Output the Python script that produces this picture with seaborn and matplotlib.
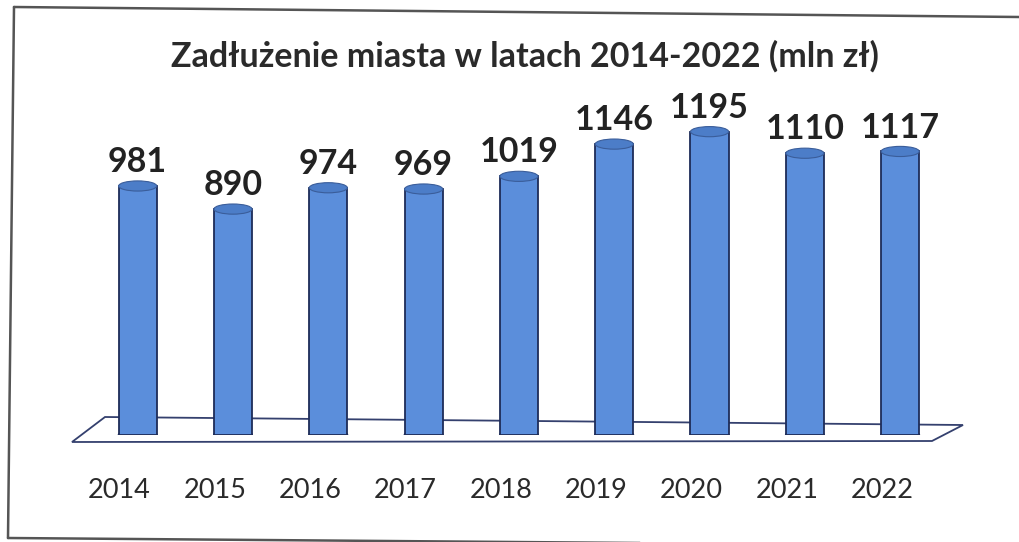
import matplotlib
matplotlib.use('Agg')
import matplotlib.pyplot as plt
import matplotlib.transforms as mtransforms
import seaborn as sns
import pandas as pd
from matplotlib.patches import Ellipse, Polygon
from matplotlib.lines import Line2D

# data
years = ['2014', '2015', '2016', '2017', '2018', '2019', '2020', '2021', '2022']
debt = [981, 890, 974, 969, 1019, 1146, 1195, 1110, 1117]
title = 'Zadłużenie miasta w latach 2014-2022 (mln zł)'

bar_color = '#5B8EDB'
cap_color = '#4C7DC8'
edge_color = '#1E2C58'

sns.set_theme(style='white')
plt.rcParams['font.family'] = ['Lato', 'DejaVu Sans']

W, H = 1019, 542
fig = plt.figure(figsize=(W / 100, H / 100), dpi=100)
fig.patch.set_facecolor('white')


def px(x, y):
    # pixel position (from top-left) -> figure fraction
    return (x / W, 1 - y / H)


ax = fig.add_axes([70 / W, 107 / H, 895 / W, 330 / H])
df = pd.DataFrame({'year': years, 'debt': debt})
sns.barplot(data=df, x='year', y='debt', color=bar_color, saturation=1,
            width=0.4, edgecolor=edge_color, linewidth=1.3, ax=ax, zorder=2)

ax.set_xlim(-0.71, 8.68)
ax.set_ylim(0, 1300)
for s in ax.spines.values():
    s.set_visible(False)
ax.set_yticks([])
ax.set_xlabel('')
ax.set_ylabel('')
ax.tick_params(axis='x', length=0, pad=31, labelsize=19.5, labelcolor='#2a2a2a')
ax.patch.set_alpha(0)

# year labels sit a bit left of the bars (3d perspective)
shift = mtransforms.ScaledTranslation(-0.18, 0, fig.dpi_scale_trans)
for lab in ax.get_xticklabels():
    lab.set_transform(lab.get_transform() + shift)

# cylinder caps (rounded bottom + elliptical top)
cap_h = 40
for i, v in enumerate(debt):
    ax.add_patch(Ellipse((i, 0), 0.4, cap_h, facecolor=bar_color,
                         edgecolor=edge_color, linewidth=1.3, zorder=1.9))
    ax.add_patch(Ellipse((i, v), 0.4, cap_h, facecolor=cap_color,
                         edgecolor='#3A5D9A', linewidth=0.8, zorder=3))
    ax.annotate(str(v), (i, v), xytext=(0, 10), textcoords='offset points',
                ha='center', va='baseline', fontsize=24.5, fontweight='bold',
                color='#222222', annotation_clip=False)

# floor of the 3d chart
floor = Polygon([px(105, 417), px(963, 425), px(932, 441), px(72, 442)],
                closed=True, transform=fig.transFigure, facecolor='white',
                edgecolor='#34406E', linewidth=1.3, zorder=0.5, clip_on=False)
ax.add_patch(floor)

fig.text(525 / W, 1 - 56 / H, title, ha='center', va='center',
         fontsize=24.5, fontweight='bold', color='#2a2a2a')

# outer frame of the scanned chart
for (x0, y0), (x1, y1) in [((14, 7), (1019, 17)), ((14, 7), (8, 538)),
                           ((8, 538), (1019, 546))]:
    fig.add_artist(Line2D([x0 / W, x1 / W], [1 - y0 / H, 1 - y1 / H],
                          transform=fig.transFigure, color='#555555', lw=1.8))

fig.savefig('out.png', dpi=100)
